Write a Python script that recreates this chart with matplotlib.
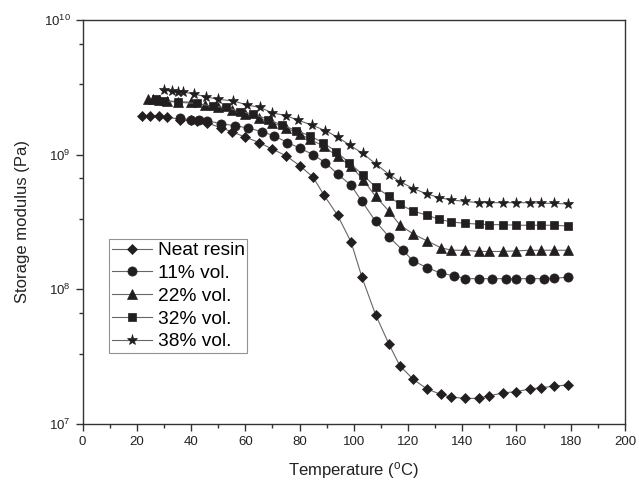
import matplotlib
matplotlib.use("Agg")
import matplotlib.pyplot as plt
from matplotlib.ticker import LogLocator, MultipleLocator, NullFormatter

plt.rcParams['font.family'] = ['Liberation Sans', 'DejaVu Sans']
plt.rcParams['mathtext.fontset'] = 'custom'
plt.rcParams['mathtext.rm'] = 'Liberation Sans'
plt.rcParams['mathtext.it'] = 'Liberation Sans'

# temperature (C) and storage modulus (Pa)
t_neat = [22, 25, 28, 31, 36, 40, 42, 46, 51, 55, 60, 65, 70, 75, 80, 85, 89, 94, 99,
          103, 108, 113, 117, 122, 127, 132, 136, 141, 146, 150, 155, 160, 165, 169, 174, 179]
e_neat = [1.95e9, 1.95e9, 1.93e9, 1.91e9, 1.82e9, 1.82e9, 1.78e9, 1.72e9, 1.58e9, 1.48e9,
          1.35e9, 1.23e9, 1.10e9, 9.8e8, 8.3e8, 6.8e8, 5.0e8, 3.55e8, 2.24e8,
          1.23e8, 6.5e7, 3.9e7, 2.7e7, 2.14e7, 1.82e7, 1.66e7, 1.58e7, 1.55e7, 1.55e7,
          1.62e7, 1.70e7, 1.74e7, 1.82e7, 1.86e7, 1.91e7, 1.95e7]

t_11 = [36, 40, 43, 46, 51, 56, 61, 66, 70.6, 75.5, 80, 85, 89.5, 94, 99, 103, 108, 113,
        118, 122, 127, 132, 137, 141, 146, 151, 156, 160, 165, 170, 174, 179]
e_11 = [1.86e9, 1.82e9, 1.82e9, 1.78e9, 1.70e9, 1.64e9, 1.58e9, 1.48e9, 1.38e9, 1.23e9,
        1.12e9, 1.0e9, 8.7e8, 7.2e8, 5.9e8, 4.5e8, 3.2e8, 2.45e8, 1.95e8, 1.62e8, 1.45e8,
        1.32e8, 1.26e8, 1.2e8, 1.2e8, 1.2e8, 1.2e8, 1.2e8, 1.2e8, 1.2e8, 1.21e8, 1.23e8]

t_22 = [24, 26, 28, 31, 35, 40, 45, 50, 55, 60, 65, 70, 75, 80, 84, 89, 94, 99, 103.5,
        108, 113, 117, 122, 127, 132, 136, 141, 146, 150, 155, 160, 165, 169, 174, 179]
e_22 = [2.57e9, 2.57e9, 2.55e9, 2.51e9, 2.48e9, 2.45e9, 2.34e9, 2.24e9, 2.14e9, 2.0e9,
        1.86e9, 1.72e9, 1.58e9, 1.42e9, 1.30e9, 1.15e9, 9.7e8, 8.2e8, 6.5e8, 4.9e8, 3.8e8,
        3.0e8, 2.57e8, 2.29e8, 2.04e8, 1.95e8, 1.95e8, 1.91e8, 1.91e8, 1.91e8, 1.93e8,
        1.95e8, 1.95e8, 1.95e8, 1.95e8]

t_32 = [27, 30, 35, 42, 48, 53, 58, 63, 68.5, 73.5, 78.7, 83.7, 88.6, 93.6, 98.3, 103.3,
        108, 113, 117, 122, 127, 131.5, 136, 141, 146, 150, 155, 160, 165, 169, 174, 179]
e_32 = [2.57e9, 2.51e9, 2.45e9, 2.40e9, 2.29e9, 2.24e9, 2.09e9, 2.0e9, 1.82e9, 1.66e9,
        1.51e9, 1.38e9, 1.23e9, 1.05e9, 8.7e8, 7.1e8, 5.75e8, 4.9e8, 4.27e8, 3.8e8, 3.55e8,
        3.31e8, 3.16e8, 3.09e8, 3.05e8, 3.02e8, 3.02e8, 2.99e8, 2.99e8, 2.99e8, 2.99e8, 2.95e8]

t_38 = [30, 33, 35, 37, 41, 45.5, 50, 55.5, 60.5, 65.4, 70, 75, 79.5, 84.5, 89.4, 94, 98.7,
        103.3, 108.2, 113.1, 117, 122, 127, 131.5, 136, 141, 146, 150, 155, 160, 165, 169, 174, 179]
e_38 = [3.02e9, 2.95e9, 2.92e9, 2.92e9, 2.82e9, 2.69e9, 2.57e9, 2.51e9, 2.34e9, 2.24e9,
        2.04e9, 1.95e9, 1.80e9, 1.66e9, 1.51e9, 1.35e9, 1.17e9, 1.02e9, 8.5e8, 7.1e8, 6.3e8,
        5.6e8, 5.1e8, 4.8e8, 4.6e8, 4.5e8, 4.4e8, 4.4e8, 4.4e8, 4.4e8, 4.4e8, 4.35e8, 4.35e8, 4.3e8]

fig = plt.figure(figsize=(6.39, 4.87), dpi=100)
ax = fig.add_axes([0.1294, 0.1294, 0.8486, 0.8296])

mk = '#231f20'
ln = '#666666'
series = [
    (t_neat, e_neat, 'D', 5.2, 'Neat resin'),
    (t_11, e_11, 'o', 6.6, '11% vol.'),
    (t_22, e_22, '^', 7.0, '22% vol.'),
    (t_32, e_32, 's', 5.8, '32% vol.'),
    (t_38, e_38, '*', 8.0, '38% vol.'),
]
for t, e, m, ms, lab in series:
    ax.plot(t, e, color=ln, lw=0.8, marker=m, ms=ms, mfc=mk, mec=mk, mew=0.5, label=lab)

ax.set_yscale('log')
ax.set_xlim(0, 200)
ax.set_ylim(1e7, 1e10)
ax.xaxis.set_major_locator(MultipleLocator(20))
ax.xaxis.set_minor_locator(MultipleLocator(10))
ax.yaxis.set_major_locator(LogLocator(base=10, numticks=10))
ax.yaxis.set_minor_locator(LogLocator(base=10, subs=(3.33, 6.67), numticks=10))
ax.yaxis.set_minor_formatter(NullFormatter())

for s in ax.spines.values():
    s.set_color('#333333')
    s.set_linewidth(1.0)
ax.tick_params(which='both', direction='out', colors='#333333', labelsize=9.5,
               top=False, right=False)
ax.tick_params(which='major', length=5, width=1)
ax.tick_params(which='minor', length=3, width=1)
ax.tick_params(axis='both', labelcolor='#222222')

ax.set_xlabel(r'Temperature ($^{\mathregular{o}}$C)', fontsize=12, color='#222222', labelpad=9)
ax.set_ylabel('Storage modulus (Pa)', fontsize=12, color='#222222', labelpad=10)

leg = ax.legend(loc='upper left', bbox_to_anchor=(0.048, 0.458), fontsize=13.8,
                frameon=True, fancybox=False, edgecolor='#777777', borderpad=0.15,
                handlelength=2.1, handletextpad=0.3, labelspacing=0.28, borderaxespad=0)
leg.get_frame().set_linewidth(0.8)

fig.savefig('out.png', dpi=100)
